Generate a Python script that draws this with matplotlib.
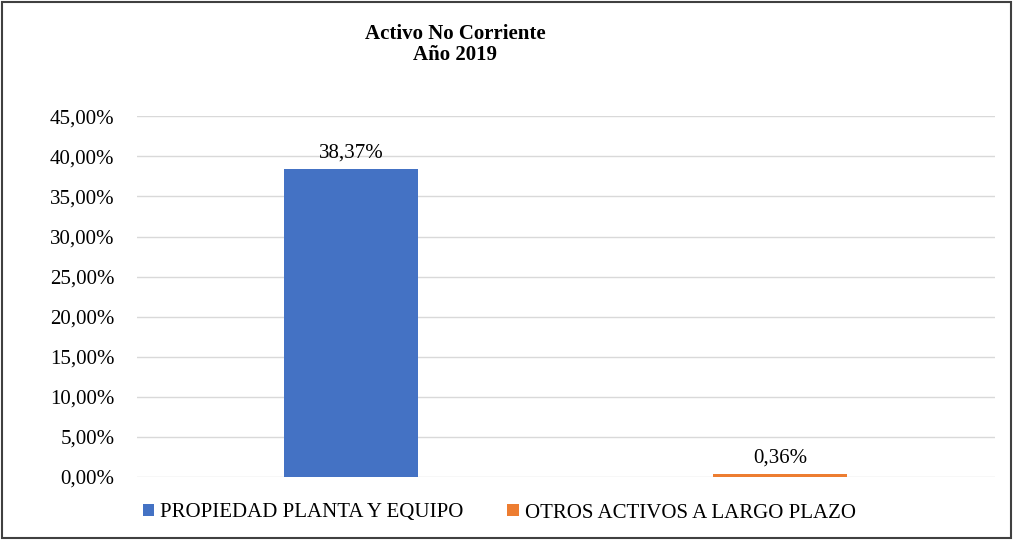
import matplotlib.pyplot as plt
from matplotlib.patches import Rectangle
from matplotlib.ticker import FuncFormatter

categorias = ['PROPIEDAD PLANTA Y EQUIPO', 'OTROS ACTIVOS A LARGO PLAZO']
valores = [38.37, 0.36]
colores = ['#4472C4', '#ED7D31']
etiquetas = ['38,37%', '0,36%']

plt.rcParams['font.family'] = ['Liberation Serif', 'DejaVu Serif']

fig = plt.figure(figsize=(10.13, 5.4), dpi=100)
ax = fig.add_axes([0.135, 0.1167, 0.847, 0.668])

x = range(len(categorias))
barras = ax.bar(x, valores, 0.313, color=colores, label=categorias, zorder=3)
for b, t in zip(barras, etiquetas):
    ax.text(b.get_x() + b.get_width() / 2, b.get_height() + 0.8, t,
            ha='center', va='bottom', fontsize=15)

ax.set_xlim(-0.5, 1.5)
ax.set_ylim(0, 45)
ax.set_yticks(range(0, 50, 5))
ax.yaxis.set_major_formatter(FuncFormatter(lambda v, p: f'{v:.2f}%'.replace('.', ',')))
ax.tick_params(axis='y', length=0, labelsize=15, pad=16)
ax.set_xticks([])
ax.grid(axis='y', color='#d9d9d9', linewidth=1, zorder=0)
for s in ax.spines.values():
    s.set_visible(False)

fig.text(0.449, 0.918, 'Activo No Corriente\nAño 2019', ha='center', va='center',
         fontsize=15, fontweight='bold', linespacing=1.1)

fig.legend(handles=barras, labels=categorias, loc='center', ncol=2,
           bbox_to_anchor=(0.493, 0.05), frameon=False, fontsize=15,
           handlelength=0.55, handleheight=0.55, handletextpad=0.3, columnspacing=2.1)

fig.patches.append(Rectangle((0.002, 0.004), 0.996, 0.993, transform=fig.transFigure,
                             fill=False, edgecolor='#404040', linewidth=1.5))

fig.savefig('out.png', dpi=100)
